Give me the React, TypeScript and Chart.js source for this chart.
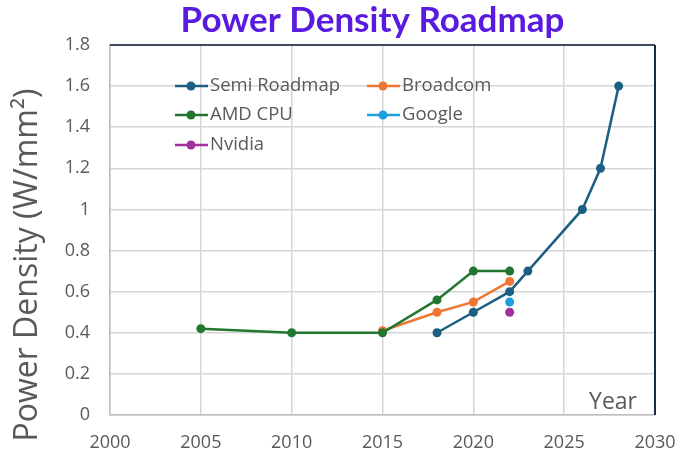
import React, { useEffect, useRef } from "react";
import { Chart, registerables } from "chart.js";

Chart.register(...registerables);

const semiYears = [2018, 2020, 2022, 2023, 2026, 2027, 2028];
const semiValues = [0.4, 0.5, 0.6, 0.7, 1.0, 1.2, 1.6];
const broadcomYears = [2015, 2018, 2020, 2022];
const broadcomValues = [0.41, 0.5, 0.55, 0.65];
const amdYears = [2005, 2010, 2015, 2018, 2020, 2022];
const amdValues = [0.42, 0.4, 0.4, 0.56, 0.7, 0.7];
const googleYears = [2022];
const googleValues = [0.55];
const nvidiaYears = [2022];
const nvidiaValues = [0.5];

const seriesNames = ["Semi Roadmap", "Broadcom", "AMD CPU", "Google", "Nvidia"];
const seriesColors = ["#1C5F82", "#EE7733", "#22762F", "#1AA1DB", "#A0309A"];

const xTicks = [2000, 2005, 2010, 2015, 2020, 2025, 2030];
const yTicks = [0, 0.2, 0.4, 0.6, 0.8, 1, 1.2, 1.4, 1.6, 1.8];

const titleText = "Power Density Roadmap";
const yTitleText = "Power Density (W/mm²)";
const xTitleText = "Year";

const GREY = "#595959";
const FONT = "'Open Sans', sans-serif";
const TITLE_FONT = "Lato, sans-serif";

function pts(xs: number[], ys: number[]) {
  return xs.map((x, i) => ({ x, y: ys[i] }));
}

const frame = {
  id: "frame",
  afterDraw(chart: any) {
    const { ctx, chartArea } = chart;
    const { left, right, top, bottom } = chartArea;
    ctx.save();
    // dark top & right borders
    ctx.lineWidth = 2;
    ctx.strokeStyle = "#3E4A5A";
    ctx.beginPath();
    ctx.moveTo(left, top);
    ctx.lineTo(right, top);
    ctx.stroke();
    ctx.strokeStyle = "#1A2B45";
    ctx.beginPath();
    ctx.moveTo(right, top);
    ctx.lineTo(right, bottom);
    ctx.stroke();

    // Title
    ctx.fillStyle = "#5A1BE0";
    ctx.font = `bold 35px ${TITLE_FONT}`;
    ctx.textAlign = "center";
    ctx.textBaseline = "alphabetic";
    ctx.fillText(titleText, (left + right) / 2 - 10, top - 13);

    // Y title
    ctx.save();
    ctx.fillStyle = GREY;
    ctx.font = `32px ${FONT}`;
    ctx.translate(28, (top + bottom) / 2 + 35);
    ctx.rotate(-Math.PI / 2);
    ctx.textAlign = "center";
    ctx.textBaseline = "middle";
    ctx.fillText(yTitleText, 0, 0);
    ctx.restore();

    // "Year" label
    ctx.fillStyle = GREY;
    ctx.font = `23px ${FONT}`;
    ctx.textAlign = "right";
    ctx.textBaseline = "alphabetic";
    ctx.fillText(xTitleText, right - 18, bottom - 6);

    // Legend
    ctx.font = `18.5px ${FONT}`;
    ctx.textAlign = "left";
    ctx.textBaseline = "middle";
    const colX = [left + 65, left + 257];
    const rowY = [top + 41, top + 70, top + 100];
    seriesNames.forEach((name, k) => {
      const cx = colX[k % 2];
      const cy = rowY[Math.floor(k / 2)];
      const col = seriesColors[k];
      ctx.strokeStyle = col;
      ctx.lineWidth = 2.5;
      ctx.beginPath();
      ctx.moveTo(cx, cy);
      ctx.lineTo(cx + 33, cy);
      ctx.stroke();
      ctx.fillStyle = col;
      ctx.beginPath();
      ctx.arc(cx + 16, cy, 4.5, 0, Math.PI * 2);
      ctx.fill();
      ctx.fillStyle = GREY;
      ctx.fillText(name, cx + 35, cy);
    });
    ctx.restore();
  },
};

export default function App() {
  const ref = useRef<HTMLCanvasElement>(null);
  useEffect(() => {
    if (!ref.current) return;
    const mk = (i: number, data: any[]) => ({
      label: seriesNames[i],
      data,
      borderColor: seriesColors[i],
      backgroundColor: seriesColors[i],
      borderWidth: 2.5,
      pointRadius: 4.5,
      pointHoverRadius: 4.5,
      pointBorderWidth: 0,
      showLine: true,
    });
    const chart = new Chart(ref.current, {
      type: "scatter",
      data: {
        datasets: [
          mk(4, pts(nvidiaYears, nvidiaValues)),
          mk(3, pts(googleYears, googleValues)),
          mk(2, pts(amdYears, amdValues)),
          mk(1, pts(broadcomYears, broadcomValues)),
          mk(0, pts(semiYears, semiValues)),
        ],
      },
      options: {
        responsive: false,
        animation: false,
        layout: { padding: { left: 0, right: 24, top: 45, bottom: 0 } },
        plugins: {
          legend: { display: false },
          tooltip: { enabled: false },
          title: { display: false },
        },
        scales: {
          x: {
            type: "linear",
            min: 2000,
            max: 2030,
            afterBuildTicks: (s: any) => {
              s.ticks = xTicks.map((v) => ({ value: v }));
            },
            afterFit: (s: any) => {
              s.height = 40;
              s.paddingRight = 0;
              s.paddingLeft = 0;
            },
            ticks: {
              color: GREY,
              font: { family: FONT, size: 18 },
              padding: 17,
              maxRotation: 0,
              callback: (v: any) => String(v),
            },
            grid: { color: "#D6D6D6", lineWidth: 1.5, drawTicks: false },
            border: { color: "#BFBFBF", width: 1.5 },
          },
          y: {
            min: 0,
            max: 1.8,
            afterBuildTicks: (s: any) => {
              s.ticks = yTicks.map((v) => ({ value: v }));
            },
            afterFit: (s: any) => {
              s.width = 110;
              s.paddingTop = 0;
              s.paddingBottom = 0;
            },
            ticks: {
              color: GREY,
              font: { family: FONT, size: 18 },
              padding: 20,
              callback: (v: any) => String(v),
            },
            grid: { color: "#D6D6D6", lineWidth: 1.5, drawTicks: false },
            border: { color: "#BFBFBF", width: 1.5 },
          },
        },
      },
      plugins: [frame],
    });
    return () => chart.destroy();
  }, []);
  return (
    <div style={{ position: "absolute", left: 0, top: 0, width: 679, height: 455, background: "#fff" }}>
      <canvas ref={ref} width={679} height={455} />
    </div>
  );
}
